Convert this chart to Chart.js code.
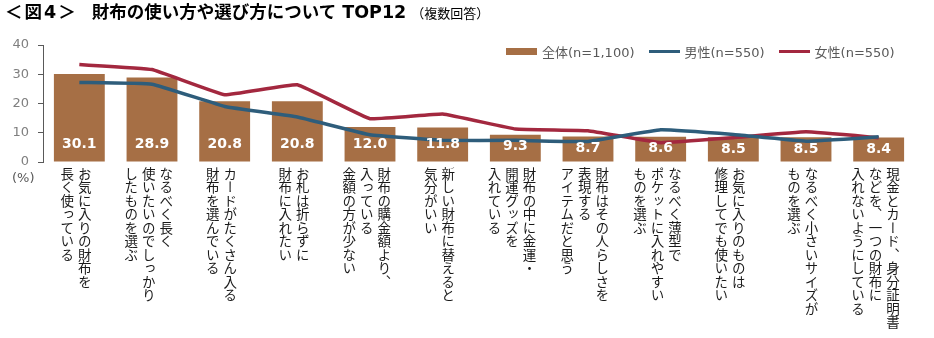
<!DOCTYPE html>
<html lang="ja">
<head>
<meta charset="utf-8">
<script src="https://cdn.jsdelivr.net/npm/chart.js@4"></script>
<style>
  body { margin: 0; background: #fff; }
  #marco {
    position: relative; width: 934px; height: 338px; overflow: hidden;
    font-family: "DejaVu Sans", "Noto Sans CJK JP", sans-serif;
  }
  #grafico { position: absolute; left: 0; top: 0; }
  #titulo {
    position: absolute; left: 5px; top: 0; line-height: 24px;
    font-size: 17.5px; font-weight: bold; color: #000; white-space: nowrap;
  }
  #titulo .num { letter-spacing: 2px; margin-right: 14px; }
  #titulo small { font-size: 13px; font-weight: normal; margin-left: 5px; }
  #leyenda {
    position: absolute; left: 506px; top: 44px; height: 15px;
    display: flex; align-items: center;
    font-size: 13px; color: #595959; white-space: nowrap;
  }
  #leyenda .item { display: flex; align-items: center; margin-right: 14px; }
  #leyenda .muestra { width: 31px; margin-right: 5px; }
  #unidad { position: absolute; left: 12px; top: 170px; font-size: 13px; color: #595959; }
  .cat {
    position: absolute; top: 167px;
    writing-mode: vertical-rl; transform: translateX(-50%);
    font-family: "Noto Sans CJK JP", sans-serif;
    font-size: 13.5px; line-height: 17.5px; color: #1a1a1a; white-space: nowrap;
  }
</style>
</head>
<body>
<div id="marco">
  <canvas id="grafico" width="934" height="338"></canvas>
  <div id="titulo"><span class="num">＜図4＞</span>財布の使い方や選び方について TOP12<small>（複数回答）</small></div>
  <div id="leyenda"></div>
  <div id="unidad">(%)</div>
</div>
<script>
// =============================
// DATOS
// =============================
const categorias = [
  ["お気に入りの財布を", "長く使っている"],
  ["なるべく長く", "使いたいのでしっかり", "したものを選ぶ"],
  ["カードがたくさん入る", "財布を選んでいる"],
  ["お札は折らずに", "財布に入れたい"],
  ["財布の購金額より、", "入っている", "金額の方が少ない"],
  ["新しい財布に替えると", "気分がいい"],
  ["財布の中に金運・", "開運グッズを", "入れている"],
  ["財布はその人らしさを", "表現する", "アイテムだと思う"],
  ["なるべく薄型で", "ポケットに入れやすい", "ものを選ぶ"],
  ["お気に入りのものは", "修理してでも使いたい"],
  ["なるべく小さいサイズが", "ものを選ぶ"],
  ["現金とカード、身分証明書", "などを、一つの財布に", "入れないようにしている"]
];

const series = ["全体(n=1,100)", "男性(n=550)", "女性(n=550)"];

const total   = [30.1, 28.9, 20.8, 20.8, 12.0, 11.8, 9.3, 8.7, 8.6, 8.5, 8.5, 8.4];
const hombres = [27.2, 26.6, 19.0, 15.4, 9.3, 7.4, 7.4, 7.0, 11.0, 9.4, 7.1, 8.6];
const mujeres = [33.3, 31.6, 23.0, 26.4, 14.8, 16.4, 11.3, 10.7, 6.6, 8.3, 10.3, 8.3];

const ticksY = [0, 10, 20, 30, 40];

const colores = ["#a66f45", "#2e5d7b", "#a3283f"];

// =============================
// ETIQUETAS DENTRO DE LAS BARRAS
// =============================
const etiquetas = {
  id: "etiquetas",
  afterDatasetsDraw(chart) {
    const meta = chart.getDatasetMeta(0);
    const c = chart.ctx;
    c.save();
    c.fillStyle = "#fff";
    c.font = "bold 14px 'DejaVu Sans'";
    c.textAlign = "center";
    c.textBaseline = "middle";
    meta.data.forEach((barra, i) => {
      const y = Math.max(barra.base - 17, barra.y + 12);
      c.fillText(total[i].toFixed(1), barra.x, y);
    });
    c.restore();
  }
};

// =============================
// GRÁFICO
// =============================
const chart = new Chart(document.getElementById("grafico"), {
  type: "bar",
  data: {
    labels: categorias.map(c => c.join("")),
    datasets: [
      {
        type: "bar",
        label: series[0],
        data: total,
        backgroundColor: colores[0],
        categoryPercentage: 1,
        barPercentage: 0.7,
        order: 2
      },
      {
        type: "line",
        label: series[1],
        data: hombres,
        borderColor: colores[1],
        borderWidth: 3.5,
        pointRadius: 0,
        tension: 0.08,
        order: 1
      },
      {
        type: "line",
        label: series[2],
        data: mujeres,
        borderColor: colores[2],
        borderWidth: 3.5,
        pointRadius: 0,
        tension: 0.08,
        order: 1
      }
    ]
  },
  options: {
    responsive: false,
    animation: false,
    layout: { padding: { top: 45, right: 19, bottom: 176, left: 0 } },
    plugins: {
      legend: { display: false },
      tooltip: { enabled: false }
    },
    scales: {
      x: { display: false },
      y: {
        min: 0,
        max: 40,
        afterBuildTicks: s => { s.ticks = ticksY.map(v => ({ value: v })); },
        afterFit: s => { s.width = 43; },
        border: { color: "#595959", width: 1 },
        grid: { drawOnChartArea: false, tickLength: 5, color: "#595959" },
        ticks: {
          color: "#7f7f7f",
          padding: 9,
          font: { family: "DejaVu Sans", size: 13 }
        }
      }
    }
  },
  plugins: [etiquetas]
});

// =============================
// LEYENDA
// =============================
const leyenda = document.getElementById("leyenda");
chart.data.datasets.forEach((ds, i) => {
  const item = document.createElement("span");
  item.className = "item";
  const muestra = document.createElement("span");
  muestra.className = "muestra";
  muestra.style.height = ds.type === "bar" ? "7px" : "3.5px";
  muestra.style.background = colores[i];
  item.appendChild(muestra);
  item.appendChild(document.createTextNode(ds.label));
  leyenda.appendChild(item);
});

// =============================
// CATEGORÍAS EN VERTICAL
// =============================
const marco = document.getElementById("marco");
const metaBarras = chart.getDatasetMeta(0);
categorias.forEach((lineas, i) => {
  const div = document.createElement("div");
  div.className = "cat";
  div.innerHTML = lineas.join("<br>");
  div.style.left = (metaBarras.data[i].x - 4) + "px";
  marco.appendChild(div);
});
</script>
</body>
</html>
